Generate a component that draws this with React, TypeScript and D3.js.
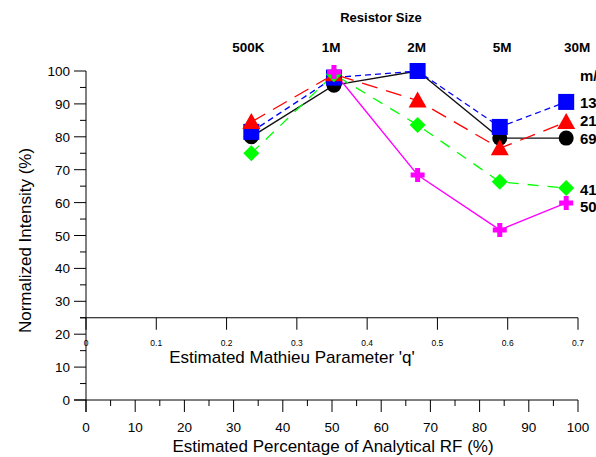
import React from "react";
import * as d3 from "d3";

const pct = [33.6, 50.4, 67.4, 84.1, 97.6];
const resistors = ["500K", "1M", "2M", "5M", "30M"];
const resistorPct = [33.0, 49.8, 67.2, 84.6, 99.8];
const s131 = [81.5, 98, 100, 83, 90.6];
const s219 = [84.5, 99, 91, 76.5, 84.5];
const s69 = [80, 95.7, 100, 79.6, 79.6];
const s414 = [75, 99, 83.6, 66.3, 64.4];
const s502: (number | null)[] = [null, 99.7, 68.4, 51.7, 59.9];
const legendLabels = ["131", "219", "69", "414", "502"];
const legendY = [103, 121, 139, 190, 207];
const yTicks = d3.range(0, 101, 10);
const xTicks = d3.range(0, 101, 10);
const qTicks = d3.range(0, 0.71, 0.1);

const W = 596, H = 457;
const FONT = "Liberation Sans, Arial, sans-serif";

export default function App() {
  const x = d3.scaleLinear().domain([0, 100]).range([86, 578]);
  const y = d3.scaleLinear().domain([0, 100]).range([400, 71]);
  const q = d3.scaleLinear().domain([0, 0.7]).range([86, 578]);
  const qY = y(25);

  const line = d3
    .line<[number, number | null]>()
    .defined((d) => d[1] !== null)
    .x((d) => x(d[0]))
    .y((d) => y(d[1] as number));
  const pts = (s: (number | null)[]) => pct.map((p, i) => [p, s[i]] as [number, number | null]);

  const sq = (cx: number, cy: number, k: number) => (
    <rect key={k} x={cx - 8} y={cy - 8} width={16} height={16} fill="#0000FF" />
  );
  const tri = (cx: number, cy: number, k: number) => (
    <path key={k} d={`M${cx},${cy - 9}L${cx + 9},${cy + 7}L${cx - 9},${cy + 7}Z`} fill="#FF0000" />
  );
  const circ = (cx: number, cy: number, k: number) => (
    <circle key={k} cx={cx} cy={cy} r={7.5} fill="#000" />
  );
  const dia = (cx: number, cy: number, k: number) => (
    <path key={k} d={`M${cx},${cy - 8}L${cx + 8},${cy}L${cx},${cy + 8}L${cx - 8},${cy}Z`} fill="#00FF00" />
  );
  const plus = (cx: number, cy: number, k: number) => (
    <path
      key={k}
      d={`M${cx - 7},${cy}L${cx + 7},${cy}M${cx},${cy - 7}L${cx},${cy + 7}`}
      stroke="#FF00FF"
      strokeWidth={5}
    />
  );
  const marks = (s: (number | null)[], f: (a: number, b: number, k: number) => React.ReactNode) =>
    pct.map((p, i) => (s[i] === null ? null : f(x(p), y(s[i] as number), i)));

  return (
    <div style={{ position: "fixed", left: 0, top: 0, width: W, height: H, background: "#fff" }}>
      <svg width={W} height={H} style={{ display: "block", overflow: "hidden" }} fontFamily={FONT}>
        {/* titles */}
        <text x={381} y={22} textAnchor="middle" fontWeight="bold" fontSize={13}>
          Resistor Size
        </text>
        {resistors.map((r, i) => (
          <text key={r} x={x(resistorPct[i])} y={52} textAnchor="middle" fontWeight="bold" fontSize={13.5}>
            {r}
          </text>
        ))}

        {/* y axis */}
        <line x1={86} x2={86} y1={y(100)} y2={412} stroke="#000" />
        {d3.range(0, 101, 5).map((v) => (
          <line key={v} x1={v % 10 === 0 ? 74 : 80} x2={86} y1={y(v)} y2={y(v)} stroke="#000" />
        ))}
        {yTicks.map((v) => (
          <text key={v} x={70} y={y(v) + 5} textAnchor="end" fontSize={13.5}>
            {v}
          </text>
        ))}
        <text
          transform={`translate(31,${(y(100) + y(0)) / 2 + 5}) rotate(-90)`}
          textAnchor="middle"
          fontSize={17}
        >
          Normalized Intensity (%)
        </text>

        {/* bottom x axis */}
        <line x1={74} x2={578} y1={400} y2={400} stroke="#000" />
        {d3.range(0, 101, 5).map((v) => (
          <line key={v} x1={x(v)} x2={x(v)} y1={400} y2={v % 10 === 0 ? 412 : 406} stroke="#000" />
        ))}
        {xTicks.map((v) => (
          <text key={v} x={x(v)} y={432} textAnchor="middle" fontSize={13.5}>
            {v}
          </text>
        ))}
        <text x={333} y={452} textAnchor="middle" fontSize={17}>
          Estimated Percentage of Analytical RF (%)
        </text>

        {/* q axis */}
        <line x1={80} x2={578} y1={qY} y2={qY} stroke="#000" />
        {qTicks.map((v) => (
          <line key={v} x1={q(v)} x2={q(v)} y1={qY} y2={qY + 12} stroke="#000" />
        ))}
        {qTicks.map((v, i) => (
          <text key={v} x={q(v)} y={346} textAnchor="middle" fontSize={8.5}>
            {i === 0 ? "0" : d3.format(".1f")(v)}
          </text>
        ))}
        <text x={292} y={363} textAnchor="middle" fontSize={17}>
          Estimated Mathieu Parameter 'q'
        </text>

        {/* lines */}
        <path d={line(pts(s69)) || ""} fill="none" stroke="#111" strokeWidth={1.3} />
        <path d={line(pts(s131)) || ""} fill="none" stroke="#0000FF" strokeWidth={1.3} strokeDasharray="6,4" />
        <path d={line(pts(s219)) || ""} fill="none" stroke="#FF0000" strokeWidth={1.3} strokeDasharray="16,9" />
        <path d={line(pts(s414)) || ""} fill="none" stroke="#00FF00" strokeWidth={1.3} strokeDasharray="11,9" />
        <path d={line(pts(s502)) || ""} fill="none" stroke="#FF00FF" strokeWidth={1.3} />

        {/* markers */}
        {marks(s69, circ)}
        {marks(s131, sq)}
        {marks(s219, tri)}
        {marks(s414, dia)}
        {marks(s502, plus)}

        {/* legend */}
        <text x={580} y={81} fontWeight="bold" fontSize={15}>
          m/z
        </text>
        {legendLabels.map((l, i) => (
          <text key={l} x={580} y={legendY[i] + 5} fontWeight="bold" fontSize={15}>
            {l}
          </text>
        ))}
      </svg>
    </div>
  );
}
